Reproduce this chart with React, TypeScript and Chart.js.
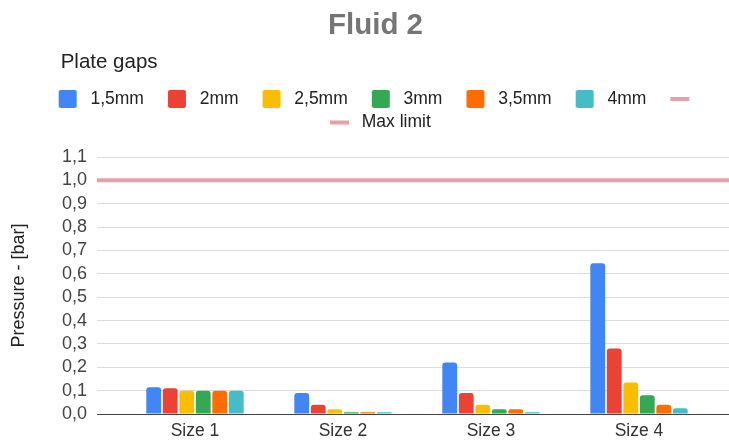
import React, { useEffect, useRef } from 'react';
import { Chart, registerables } from 'chart.js';

Chart.register(...registerables);

// ---- data ----
const categories = ['Size 1', 'Size 2', 'Size 3', 'Size 4'];
const seriesNames = ['1,5mm', '2mm', '2,5mm', '3mm', '3,5mm', '4mm'];
const gap15 = [0.115, 0.09, 0.22, 0.645];
const gap2 = [0.11, 0.04, 0.09, 0.28];
const gap25 = [0.1, 0.02, 0.04, 0.135];
const gap3 = [0.1, 0.007, 0.02, 0.08];
const gap35 = [0.1, 0.007, 0.02, 0.04];
const gap4 = [0.1, 0.007, 0.007, 0.025];
const maxLimit = 1.0;
const limitNames = ['', 'Max limit'];
const yTickValues = [0, 0.1, 0.2, 0.3, 0.4, 0.5, 0.6, 0.7, 0.8, 0.9, 1.0, 1.1];

const seriesValues = [gap15, gap2, gap25, gap3, gap35, gap4];
const seriesColors = ['#4285F4', '#EA4335', '#FBBC04', '#34A853', '#FF6D01', '#46BDC6'];
const limitColor = '#E8A0A8';

const FONT = '"Liberation Sans", Arial, sans-serif';
const X_MIN = -0.662;
const X_MAX = 3.608;

function makeMarker(color: string, kind: 'box' | 'line') {
  const c = document.createElement('canvas');
  c.width = 41;
  c.height = 18;
  const g = c.getContext('2d')!;
  g.fillStyle = color;
  if (kind === 'box') {
    g.beginPath();
    (g as any).roundRect(18, 0, 18, 18, 2);
    g.fill();
  } else {
    g.fillRect(18, 7, 19, 4);
  }
  return c;
}

export default function App() {
  const ref = useRef<HTMLCanvasElement | null>(null);

  useEffect(() => {
    document.body.style.margin = '0';
    const canvas = ref.current;
    if (!canvas) return;

    const markers = [
      ...seriesColors.map((c) => makeMarker(c, 'box')),
      makeMarker(limitColor, 'line'),
      makeMarker(limitColor, 'line'),
    ];

    const barSets = seriesNames.map((name, i) => ({
      type: 'bar' as const,
      label: name,
      data: seriesValues[i].map((v, j) => ({ x: j, y: v })),
      backgroundColor: seriesColors[i],
      borderWidth: 0,
      borderRadius: 3,
      categoryPercentage: 0.669,
      barPercentage: 0.9,
    }));

    const lineSets = limitNames.map((name, i) => ({
      type: 'line' as const,
      label: name,
      data: i === 1 ? [{ x: X_MIN, y: maxLimit }, { x: X_MAX, y: maxLimit }] : [],
      borderColor: limitColor,
      backgroundColor: limitColor,
      borderWidth: 4,
      pointRadius: 0,
      fill: false,
    }));

    const layoutPlugin = {
      id: 'layoutTweaks',
      beforeLayout(chart: any) {
        const lg = chart.legend;
        if (lg && !lg.__patched) {
          const orig = lg.fit.bind(lg);
          lg.fit = function () {
            orig();
            this.height += 15.75;
          };
          lg.__patched = true;
        }
      },
      afterLayout(chart: any) {
        if (chart.titleBlock) chart.titleBlock.left = 22;
        const sub = chart.boxes.find((b: any) => b.options && b.options.text === 'Plate gaps');
        if (sub) sub.left = 60.7;
        if (chart.legend) chart.legend.left = 13.7;
      },
    };

    const chart = new Chart(canvas, {
      type: 'bar',
      data: { datasets: [...barSets, ...lineSets] as any },
      plugins: [layoutPlugin],
      options: {
        responsive: false,
        animation: false,
        devicePixelRatio: 1,
        layout: { padding: { left: 3, top: 0, right: 0, bottom: 0 } },
        plugins: {
          tooltip: { enabled: false },
          title: {
            display: true,
            text: 'Fluid 2',
            color: '#757575',
            font: { family: FONT, size: 29.5, weight: 'bold' },
            padding: { top: 8, bottom: 0 },
          },
          subtitle: {
            display: true,
            text: 'Plate gaps',
            align: 'start',
            color: '#222222',
            font: { family: FONT, size: 20.5 },
            padding: { top: 7, bottom: 9.25 },
          },
          legend: {
            display: true,
            position: 'top',
            align: 'center',
            labels: {
              font: { family: FONT, size: 17.5 },
              color: '#222222',
              padding: 6,
              usePointStyle: true,
              pointStyleWidth: 41,
              generateLabels: (ch: any) =>
                ch.data.datasets.map((ds: any, i: number) => ({
                  text: ds.label,
                  fillStyle: 'transparent',
                  strokeStyle: 'transparent',
                  lineWidth: 0,
                  hidden: false,
                  datasetIndex: i,
                  pointStyle: markers[i],
                  fontColor: '#222222',
                })),
            },
          },
        },
        scales: {
          x: {
            type: 'linear',
            min: X_MIN,
            max: X_MAX,
            offset: false,
            afterBuildTicks: (axis: any) => {
              axis.ticks = categories.map((_, i) => ({ value: i }));
            },
            afterFit: (s: any) => {
              s.height = 30;
            },
            ticks: {
              autoSkip: false,
              maxRotation: 0,
              padding: 7,
              color: '#333333',
              font: { family: FONT, size: 17.5 },
              callback: (v: any) => categories[v] ?? '',
            },
            grid: { display: false, drawTicks: false, offset: false },
            border: { display: false },
          },
          y: {
            type: 'linear',
            min: 0,
            max: 1.1,
            afterBuildTicks: (axis: any) => {
              axis.ticks = yTickValues.map((v) => ({ value: v }));
            },
            afterFit: (s: any) => {
              s.width = 94;
            },
            ticks: {
              autoSkip: false,
              padding: 10,
              color: '#444444',
              font: { family: FONT, size: 18 },
              callback: (v: any) => Number(v).toFixed(1).replace('.', ','),
            },
            grid: {
              drawTicks: false,
              lineWidth: 1,
              color: (ctx: any) => (ctx.tick && Math.abs(ctx.tick.value) < 1e-9 ? '#444444' : '#dcdcdc'),
            },
            border: { display: false },
            title: {
              display: true,
              text: 'Pressure - [bar]',
              color: '#222222',
              font: { family: FONT, size: 18 },
              padding: { top: 5.7, bottom: 0 },
            },
          },
        },
      } as any,
    });

    return () => chart.destroy();
  }, []);

  return (
    <div style={{ width: 729, height: 444 }}>
      <canvas ref={ref} width={729} height={444} style={{ display: 'block' }} />
    </div>
  );
}
